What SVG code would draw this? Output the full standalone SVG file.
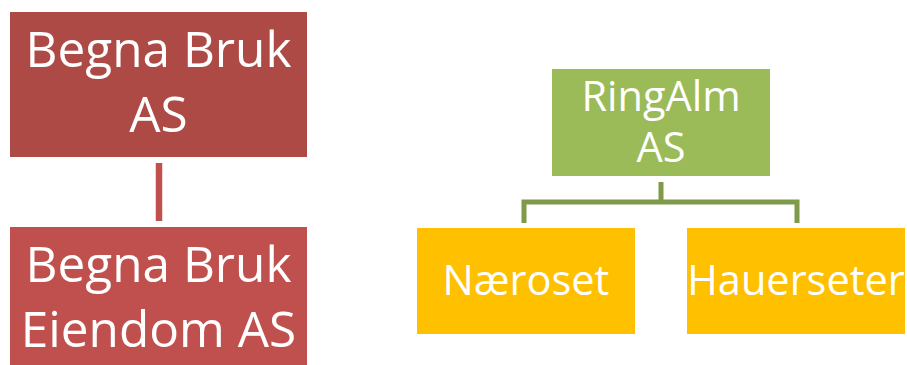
<svg xmlns="http://www.w3.org/2000/svg" width="907" height="365" viewBox="0 0 907 365">
<style>
text{font-family:"Open Sans","Noto Sans","Liberation Sans",sans-serif;fill:#fff;text-anchor:middle}
.big{font-size:49.5px}
.mid{font-size:41.5px}
.red{stroke:#C0504D;stroke-width:6.5;fill:none}
.grn{stroke:#7F9A48;stroke-width:5;fill:none}
</style>
<rect width="907" height="365" fill="#fff"/>
<g id="connectors">
<line class="red" x1="159" y1="163" x2="159" y2="221"/>
<path class="grn" d="M661,182 V202 M524,223 V202 H797 V223"/>
</g>
<g id="begna-bruk-as">
<rect x="10" y="12" width="297" height="145" fill="#AD4A46"/>
<text class="big" x="158.5" y="67">Begna Bruk</text>
<text class="big" x="158.5" y="132">AS</text>
</g>
<g id="begna-bruk-eiendom-as">
<rect x="10" y="227" width="297" height="145" fill="#C0504D"/>
<text class="big" x="158.5" y="282">Begna Bruk</text>
<text class="big" x="158.5" y="347">Eiendom AS</text>
</g>
<g id="ringalm-as">
<rect x="552" y="69" width="218" height="107" fill="#9BBB59"/>
<text class="mid" x="661" y="111">RingAlm</text>
<text class="mid" x="661" y="162">AS</text>
</g>
<g id="naeroset">
<rect x="417" y="228" width="218" height="106" fill="#FFC000"/>
<text class="mid" x="526" y="295">Næroset</text>
</g>
<g id="hauerseter">
<rect x="687" y="228" width="218" height="106" fill="#FFC000"/>
<text class="mid" x="796" y="295">Hauerseter</text>
</g>
</svg>
